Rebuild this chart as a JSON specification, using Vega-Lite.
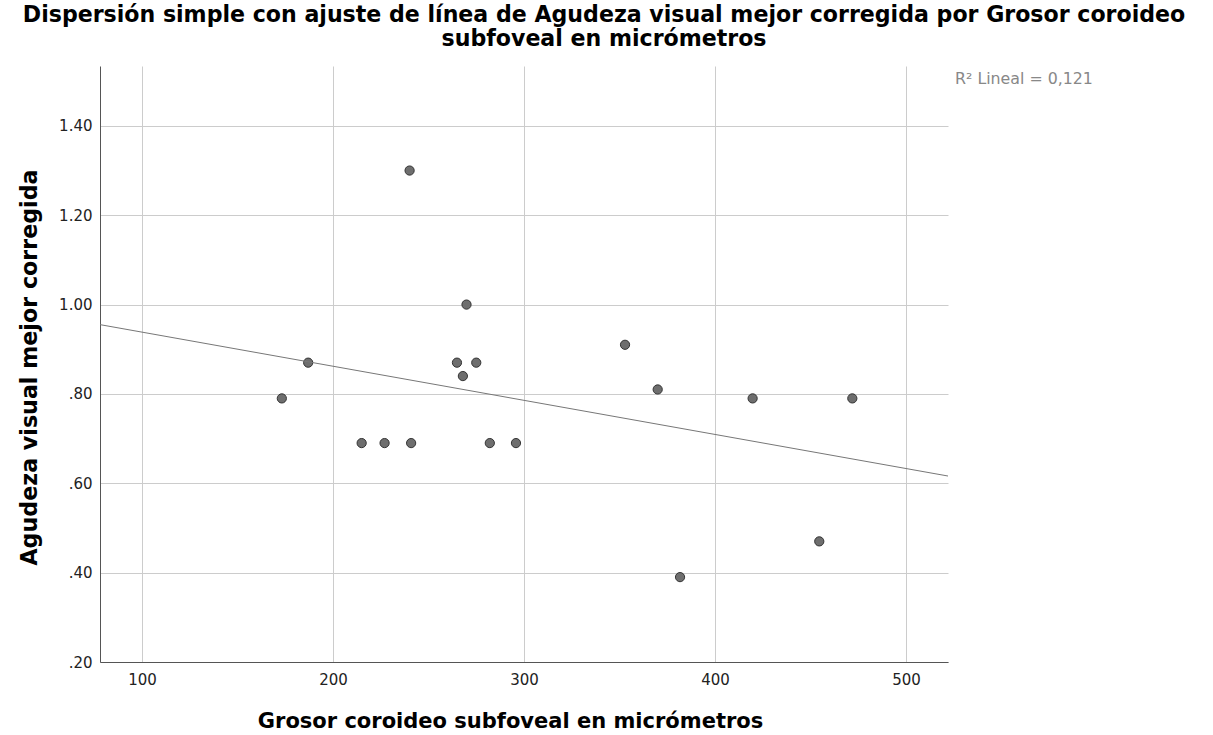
{
  "$schema": "https://vega.github.io/schema/vega-lite/v6.json",
  "width": 848,
  "height": 596,
  "autosize": {"type": "none"},
  "padding": {"left": 100, "top": 66, "right": 265, "bottom": 73},
  "background": "white",
  "config": {
    "view": {"stroke": null},
    "axis": {
      "domainColor": "#555555",
      "domainWidth": 1,
      "gridColor": "#cccccc",
      "gridWidth": 1,
      "ticks": false,
      "labelFont": "DejaVu Sans",
      "labelFontSize": 15,
      "labelColor": "#222222",
      "titleFont": "DejaVu Sans",
      "titleFontSize": 21,
      "titleFontWeight": "bold",
      "titleColor": "#000000"
    }
  },
  "title": {
    "text": ["Dispersión simple con ajuste de línea de Agudeza visual mejor corregida por Grosor coroideo", "subfoveal en micrómetros"],
    "font": "DejaVu Sans",
    "fontSize": 22.1,
    "fontWeight": "bold",
    "color": "#000000",
    "anchor": "middle",
    "frame": "group",
    "dx": 80,
    "offset": 15,
    "lineHeight": 23.5
  },
  "data": {
    "values": [
      {"grosor": 173.2, "agudeza": 0.79},
      {"grosor": 187.0, "agudeza": 0.87},
      {"grosor": 215.0, "agudeza": 0.69},
      {"grosor": 227.0, "agudeza": 0.69},
      {"grosor": 240.1, "agudeza": 1.30},
      {"grosor": 240.9, "agudeza": 0.69},
      {"grosor": 264.9, "agudeza": 0.87},
      {"grosor": 268.0, "agudeza": 0.84},
      {"grosor": 269.9, "agudeza": 1.00},
      {"grosor": 275.0, "agudeza": 0.87},
      {"grosor": 282.1, "agudeza": 0.69},
      {"grosor": 295.8, "agudeza": 0.69},
      {"grosor": 352.9, "agudeza": 0.91},
      {"grosor": 370.0, "agudeza": 0.81},
      {"grosor": 381.7, "agudeza": 0.39},
      {"grosor": 419.7, "agudeza": 0.79},
      {"grosor": 454.6, "agudeza": 0.47},
      {"grosor": 471.9, "agudeza": 0.79}
    ]
  },
  "layer": [
    {
      "mark": {"type": "point", "filled": true, "fill": "#6e6e6e", "stroke": "#333333", "strokeWidth": 1, "size": 85, "opacity": 1},
      "encoding": {
        "x": {
          "field": "grosor", "type": "quantitative",
          "scale": {"domain": [78, 522], "nice": false, "zero": false},
          "axis": {
            "values": [100, 200, 300, 400, 500],
            "title": "Grosor coroideo subfoveal en micrómetros",
            "labelPadding": 10,
            "titleX": 410,
            "titleY": 65,
            "titleBaseline": "alphabetic"
          }
        },
        "y": {
          "field": "agudeza", "type": "quantitative",
          "scale": {"domain": [0.2, 1.534], "nice": false, "zero": false},
          "axis": {
            "values": [0.2, 0.4, 0.6, 0.8, 1.0, 1.2, 1.4],
            "labelExpr": "datum.value >= 1 ? format(datum.value, '.2f') : replace(format(datum.value, '.2f'), '0.', '.')",
            "labelPadding": 8,
            "title": "Agudeza visual mejor corregida",
            "titleFontSize": 22.2,
            "titleX": -64,
            "titleY": 301,
            "titleBaseline": "alphabetic",
            "titleAngle": 270
          }
        }
      }
    },
    {
      "mark": {"type": "line", "color": "#777777", "strokeWidth": 1, "clip": true},
      "transform": [{"regression": "agudeza", "on": "grosor", "extent": [78, 522]}],
      "encoding": {
        "x": {"field": "grosor", "type": "quantitative"},
        "y": {"field": "agudeza", "type": "quantitative"}
      }
    },
    {
      "data": {"values": [{"label": "R² Lineal = 0,121"}]},
      "mark": {"type": "text", "align": "left", "baseline": "middle", "font": "DejaVu Sans", "fontSize": 15.8, "color": "#888888"},
      "encoding": {
        "text": {"field": "label", "type": "nominal"},
        "x": {"datum": 525.7},
        "y": {"datum": 1.505}
      }
    }
  ]
}
